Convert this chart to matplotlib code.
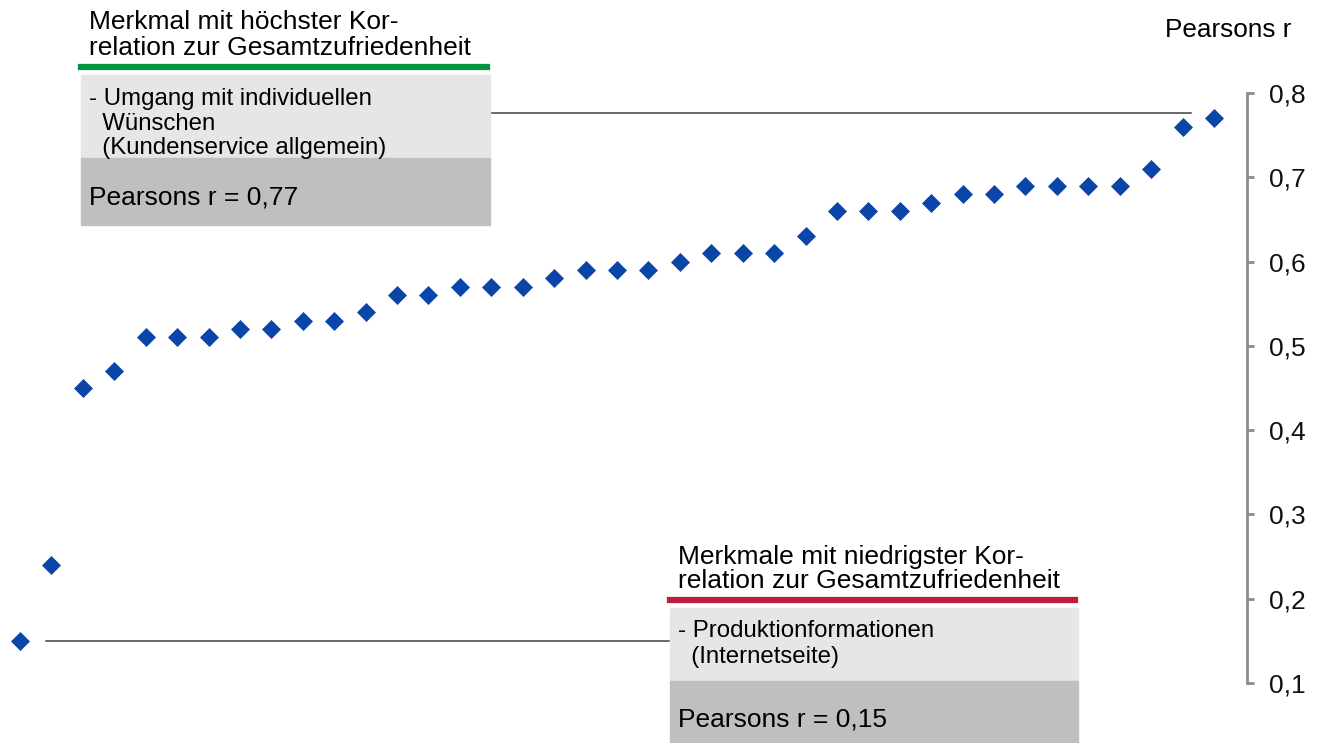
import numpy as np
import matplotlib.pyplot as plt

plt.rcParams['font.family'] = ['Liberation Sans', 'DejaVu Sans']

# data: Pearsons r per Merkmal, sorted ascending
pearson_r = [0.15, 0.24, 0.45, 0.47, 0.51, 0.51, 0.51, 0.52, 0.52, 0.53,
             0.53, 0.54, 0.56, 0.56, 0.57, 0.57, 0.57, 0.58, 0.59, 0.59,
             0.59, 0.60, 0.61, 0.61, 0.61, 0.63, 0.66, 0.66, 0.66, 0.67,
             0.68, 0.68, 0.69, 0.69, 0.69, 0.69, 0.71, 0.76, 0.77]
y_ticks = [0.1, 0.2, 0.3, 0.4, 0.5, 0.6, 0.7, 0.8]
y_ticklabels = ['0,1', '0,2', '0,3', '0,4', '0,5', '0,6', '0,7', '0,8']

top_title = ['Merkmal mit höchster Kor-', 'relation zur Gesamtzufriedenheit']
top_body = ['- Umgang mit individuellen', '  Wünschen', '  (Kundenservice allgemein)']
top_value = 'Pearsons r = 0,77'
low_title = ['Merkmale mit niedrigster Kor-', 'relation zur Gesamtzufriedenheit']
low_body = ['- Produktionformationen', '  (Internetseite)']
low_value = 'Pearsons r = 0,15'

W, H = 1327, 743
fig = plt.figure(figsize=(W / 100, H / 100), dpi=100)
ax = fig.add_axes([0, 0, 1, 1])

step = (1214 - 20) / 38.0
ax.set_xlim(-20 / step, (W - 20) / step)
ppu = (683 - 93) / 0.7
ax.set_ylim(0.1 - (H - 683) / ppu, 0.8 + 93 / ppu)

x = np.arange(len(pearson_r))
ax.plot(x, pearson_r, linestyle='none', marker='D', ms=8.8,
        color='#0a46aa', mec='#0a46aa', mew=0.5, zorder=5)

# axis on the right
for s in ['top', 'left', 'bottom']:
    ax.spines[s].set_visible(False)
ax.spines['right'].set_position(('data', (1247 - 20) / step))
ax.spines['right'].set_bounds(0.1, 0.8)
ax.spines['right'].set_color('#8c8c8c')
ax.spines['right'].set_linewidth(2.0)
ax.set_xticks([])
ax.yaxis.tick_right()
ax.set_yticks(y_ticks)
ax.set_yticklabels(y_ticklabels)
ax.tick_params(axis='y', direction='out', length=5, width=2.0,
               color='#8c8c8c', labelsize=19, pad=10.5, labelcolor='#111111')

def fx(px):
    return px / W

def fy(py):
    return 1 - py / H

fig.text(fx(1165), fy(37), 'Pearsons r', fontsize=18.8, va='baseline', ha='left')

# connector lines
ax.plot([490 / W, 1191 / W], [0.776, 0.776], transform=ax.get_yaxis_transform(),
        color='#404040', lw=1.1, zorder=1)
ax.plot([46 / W, 670 / W], [min(pearson_r)] * 2, transform=ax.get_yaxis_transform(),
        color='#404040', lw=1.1, zorder=1)

def info_box(x0, x1, y_line, y_mid, y_bot, color, title, body, value,
             title_base, body_base, value_base):
    fig.patches.append(plt.Rectangle((fx(x0), fy(y_mid)), fx(x1 - x0), (y_mid - y_line - 8) / H,
                                     transform=fig.transFigure, color='#e6e6e6', zorder=2))
    fig.patches.append(plt.Rectangle((fx(x0), fy(y_bot)), fx(x1 - x0), (y_bot - y_mid) / H,
                                     transform=fig.transFigure, color='#bfbfbf', zorder=2))
    fig.add_artist(plt.Line2D([fx(x0), fx(x1 - 3)], [fy(y_line)] * 2, color=color, lw=4.5))
    for line, yb in zip(title, title_base):
        fig.text(fx(x0 + 8), fy(yb), line, fontsize=19, va='baseline', ha='left')
    for line, yb in zip(body, body_base):
        fig.text(fx(x0 + 8), fy(yb), line, fontsize=17.3, va='baseline', ha='left')
    fig.text(fx(x0 + 8), fy(value_base), value, fontsize=19, va='baseline', ha='left')

info_box(81, 490, 67, 158, 225, '#009640', top_title, top_body, top_value,
         [29, 55], [105, 130, 154], 205)
info_box(670, 1078, 600, 681, 743, '#be1e3c', low_title, low_body, low_value,
         [564, 588], [637, 663], 727)

fig.savefig('out.png', dpi=100)
